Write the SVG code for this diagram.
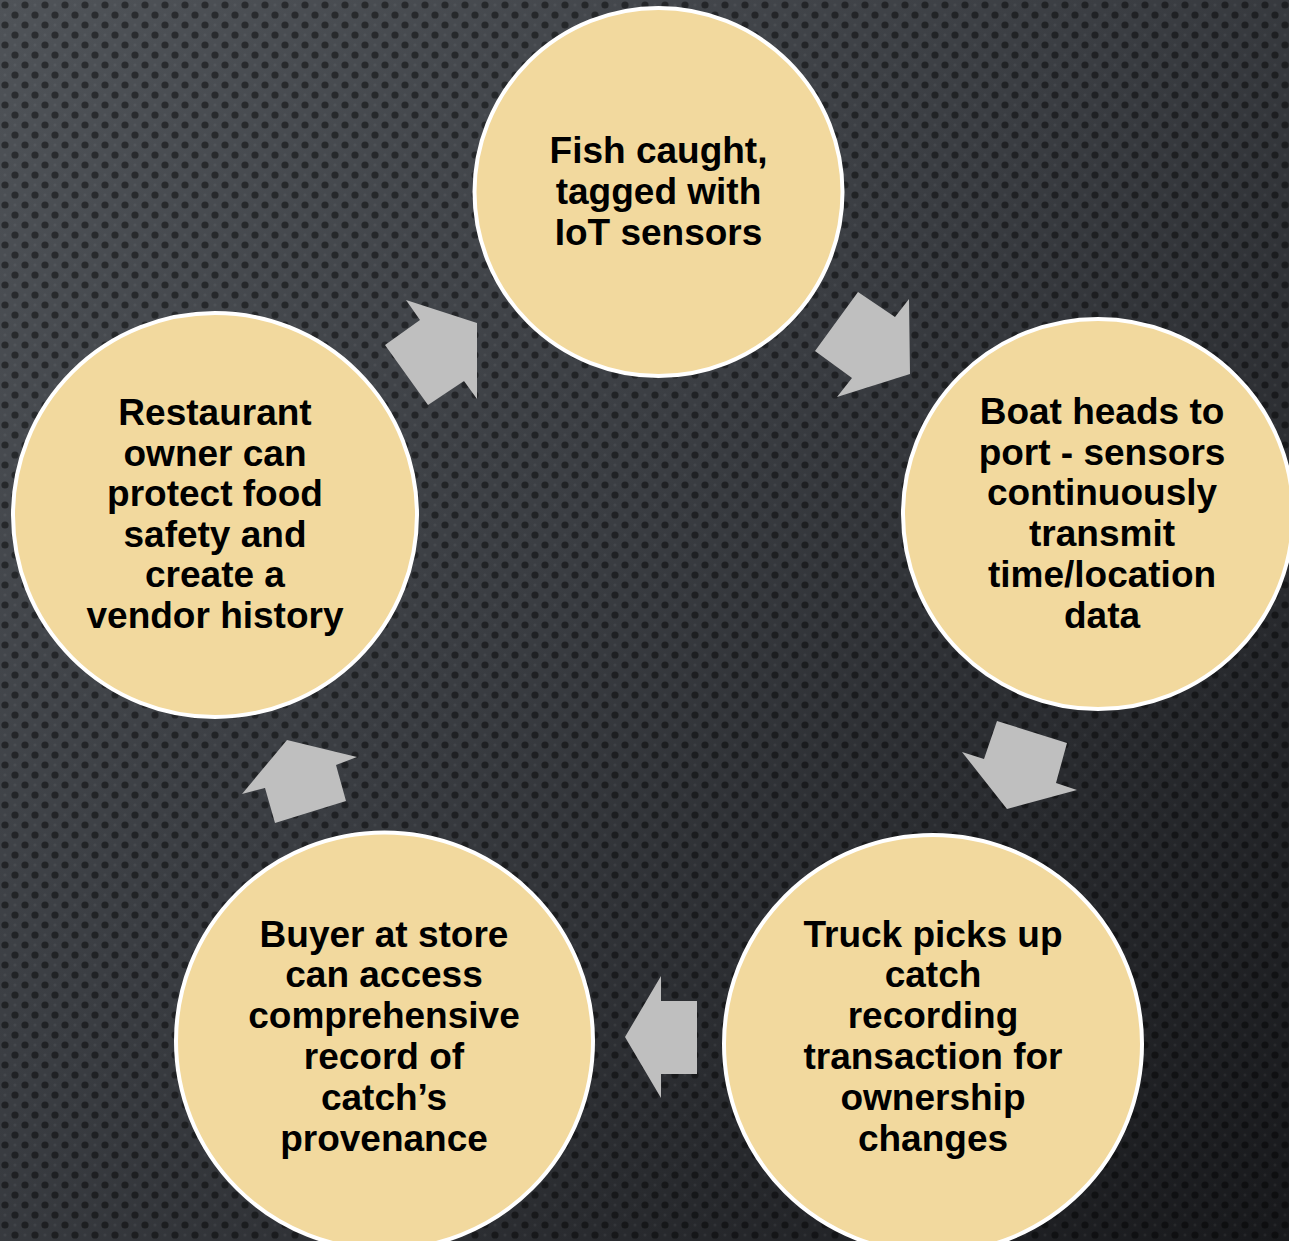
<svg xmlns="http://www.w3.org/2000/svg" width="1289" height="1241" viewBox="0 0 1289 1241">
<defs>
<linearGradient id="bg" x1="0" y1="0" x2="1" y2="1">
<stop offset="0" stop-color="#4f5358"/>
<stop offset="0.45" stop-color="#3a3d42"/>
<stop offset="1" stop-color="#18191c"/>
</linearGradient>
<pattern id="dots" width="20" height="20" patternUnits="userSpaceOnUse">
<circle cx="5" cy="5" r="3.6" fill="#000" fill-opacity="0.45"/>
<circle cx="15" cy="15" r="3.6" fill="#000" fill-opacity="0.45"/>
<circle cx="15" cy="5" r="1.5" fill="#fff" fill-opacity="0.05"/>
<circle cx="5" cy="15" r="1.5" fill="#fff" fill-opacity="0.05"/>
</pattern>
</defs>
<style>
.node circle{fill:#f2d99e;stroke:#ffffff;stroke-width:4}
.node text{font-family:"Liberation Sans",Arial,sans-serif;font-weight:bold;font-size:37px;fill:#000;text-anchor:middle}
.arrow{fill:#bfbfbf}
</style>
<rect width="1289" height="1241" fill="url(#bg)"/>
<rect width="1289" height="1241" fill="url(#dots)"/>

<g id="connectors">
<polygon class="arrow" points="815,351 858,292 895,317 909,299 910,374 837,397 852,378"/>
<polygon class="arrow" points="997,721 1067,743 1056,783 1077,790 1007,809 962,752 984,759"/>
<polygon class="arrow" points="625,1037 661,976 661,1001 697,1001 697,1074 661,1074 661,1098"/>
<polygon class="arrow" points="287,740 357,757 336,765 346,801 275,823 265,788 242,794"/>
<polygon class="arrow" points="385,345 420,320 406,300 477,323 477,399 464,381 428,405"/>
</g>

<g id="node-fish" class="node">
<circle cx="658.5" cy="192" r="184"/>
<text x="658.5" y="163">Fish caught,</text>
<text x="658.5" y="204">tagged with</text>
<text x="658.5" y="245">IoT sensors</text>
</g>

<g id="node-boat" class="node">
<circle cx="1098" cy="514" r="195"/>
<text x="1102" y="424">Boat heads to</text>
<text x="1102" y="465">port - sensors</text>
<text x="1102" y="505">continuously</text>
<text x="1102" y="546">transmit</text>
<text x="1102" y="587">time/location</text>
<text x="1102" y="628">data</text>
</g>

<g id="node-truck" class="node">
<circle cx="933" cy="1044" r="209"/>
<text x="933" y="947">Truck picks up</text>
<text x="933" y="987">catch</text>
<text x="933" y="1028">recording</text>
<text x="933" y="1069">transaction for</text>
<text x="933" y="1110">ownership</text>
<text x="933" y="1151">changes</text>
</g>

<g id="node-buyer" class="node">
<circle cx="384.5" cy="1041" r="208.5"/>
<text x="384" y="947">Buyer at store</text>
<text x="384" y="987">can access</text>
<text x="384" y="1028">comprehensive</text>
<text x="384" y="1069">record of</text>
<text x="384" y="1110">catch’s</text>
<text x="384" y="1151">provenance</text>
</g>

<g id="node-restaurant" class="node">
<circle cx="215" cy="515" r="202"/>
<text x="215" y="425">Restaurant</text>
<text x="215" y="466">owner can</text>
<text x="215" y="506">protect food</text>
<text x="215" y="547">safety and</text>
<text x="215" y="587">create a</text>
<text x="215" y="628">vendor history</text>
</g>
</svg>
